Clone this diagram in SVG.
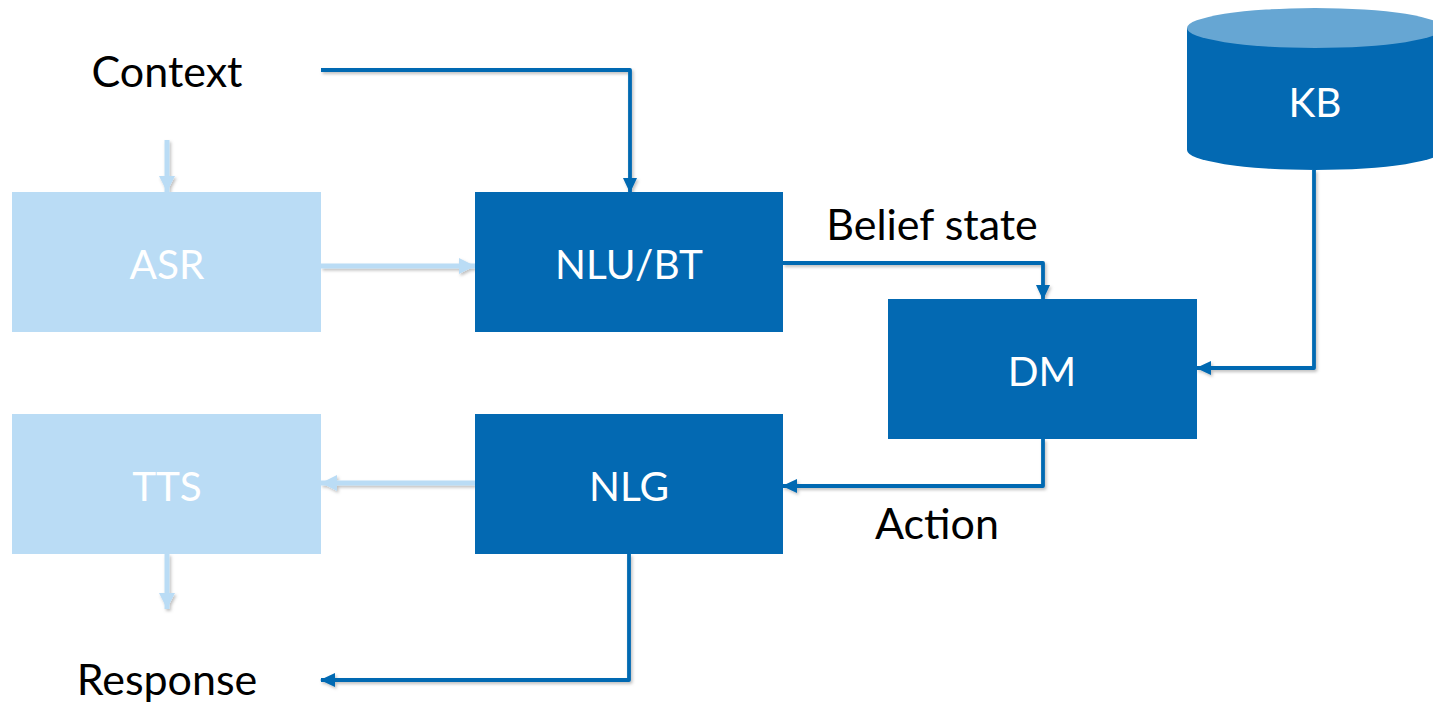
<svg xmlns="http://www.w3.org/2000/svg" width="1433" height="705" viewBox="0 0 1433 705">
<style>
.dark{fill:#0369b2}
.light{fill:#badcf5}
.lbl{font-family:Lato,"Open Sans",sans-serif;font-size:40.5px;fill:#fff;text-anchor:middle}
.txt{font-family:Lato,"Open Sans",sans-serif;font-size:43px;fill:#000;text-anchor:middle}
.cd{fill:none;stroke:#0369b2;stroke-width:3.8;stroke-linejoin:round}
.cl{fill:none;stroke:#badcf5;stroke-width:5}
</style>
<defs>
<marker id="ad" markerUnits="userSpaceOnUse" markerWidth="16" markerHeight="16" refX="14" refY="8" orient="auto"><path d="M0,1 L15,8 L0,15 z" fill="#0369b2"/></marker>
<marker id="al" markerUnits="userSpaceOnUse" markerWidth="18" markerHeight="18" refX="16" refY="9" orient="auto"><path d="M0,1 L16,9 L0,17 z" fill="#badcf5"/></marker>
<filter id="sh" x="-5%" y="-5%" width="110%" height="110%"><feDropShadow dx="1.5" dy="2" stdDeviation="1.5" flood-color="#000" flood-opacity="0.25"/></filter>
</defs>
<rect width="1433" height="705" fill="#fff"/>
<text class="txt" x="167" y="87">Context</text>
<text class="txt" x="932" y="240">Belief state</text>
<text class="txt" x="937" y="539">Action</text>
<text class="txt" x="167" y="695">Response</text>
<g id="connectors" filter="url(#sh)">
<path class="cl" d="M167,140 L167,192" marker-end="url(#al)"/>
<path class="cl" d="M321,266 L475,266" marker-end="url(#al)"/>
<path class="cl" d="M475,483 L321,483" marker-end="url(#al)"/>
<path class="cl" d="M167,554 L167,609" marker-end="url(#al)"/>
<path class="cd" d="M321,70 L630,70 L630,192" marker-end="url(#ad)"/>
<path class="cd" d="M783,263 L1043,263 L1043,299" marker-end="url(#ad)"/>
<path class="cd" d="M1314,170 L1314,368 L1197,368" marker-end="url(#ad)"/>
<path class="cd" d="M1043,439 L1043,486 L783,486" marker-end="url(#ad)"/>
<path class="cd" d="M629,554 L629,680 L321,680" marker-end="url(#ad)"/>
</g>
<g id="ASR"><rect class="light" x="12" y="192" width="309" height="140"/><text class="lbl" x="167" y="279">ASR</text></g>
<g id="NLU"><rect class="dark" x="475" y="192" width="308" height="140"/><text class="lbl" x="629" y="279">NLU/BT</text></g>
<g id="DM"><rect class="dark" x="888" y="299" width="309" height="140"/><text class="lbl" x="1042" y="386">DM</text></g>
<g id="TTS"><rect class="light" x="12" y="414" width="309" height="140"/><text class="lbl" x="167" y="501">TTS</text></g>
<g id="NLG"><rect class="dark" x="475" y="414" width="308" height="140"/><text class="lbl" x="629" y="501">NLG</text></g>
<g id="KB">
<path class="dark" d="M1187,28 L1187,150 A128,20 0 0 0 1443,150 L1443,28 Z"/>
<ellipse cx="1315" cy="28" rx="128" ry="20" fill="#66a6d3"/>
<text class="lbl" x="1315" y="117">KB</text>
</g>
</svg>
